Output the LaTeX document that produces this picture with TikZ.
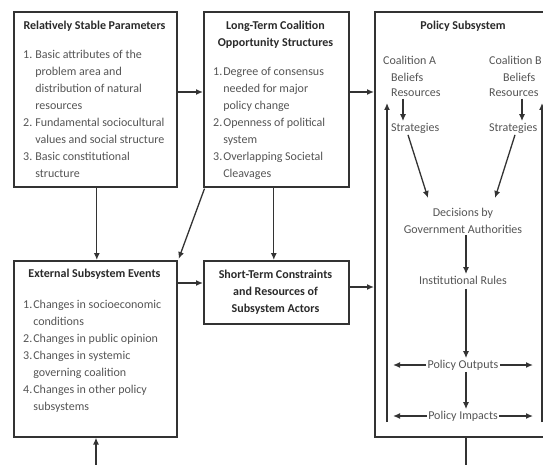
\documentclass[tikz,border=0pt]{standalone}
\usepackage{fontspec}
\setmainfont{Carlito}
\usetikzlibrary{arrows.meta,calc}
\definecolor{lncol}{HTML}{333333}
\definecolor{txcol}{HTML}{555555}
\definecolor{ttcol}{HTML}{2A2A2A}
\begin{document}
\begin{tikzpicture}[x=1pt,y=-1pt,
  box/.style={draw=lncol, line width=1.6pt, inner sep=0pt, anchor=north west},
  arr/.style={draw=lncol, line width=1.3pt, -{Latex[length=7pt,width=6pt]}},
  plain/.style={draw=lncol, line width=1.3pt},
  ttl/.style={font=\fontsize{12}{17}\selectfont\bfseries, text=ttcol, inner sep=0pt, align=center},
  lst/.style={font=\fontsize{12}{17}\selectfont, text=txcol, inner sep=0pt, anchor=base west},
  lbl/.style={font=\fontsize{12}{17}\selectfont, text=txcol, inner sep=1.5pt},
]
\clip (0,0) rectangle (543,465);
\fill[white] (0,0) rectangle (543,465);

% boxes
\node[box, minimum width=163pt, minimum height=175pt] (rsp) at (13,11) {};
\node[box, minimum width=145pt, minimum height=175pt] (lt) at (203,11) {};
\node[box, minimum width=196pt, minimum height=425pt] (ps) at (374,11) {};
\node[box, minimum width=163pt, minimum height=176pt] (ext) at (13,260) {};
\node[box, minimum width=145pt, minimum height=63pt] (st) at (203,260) {};

% box texts
\node[ttl] (rspt) at (94.5,26) {Relatively Stable Parameters};
\node[lst] (rspl) at (23,59) {\begin{tabular}[t]{@{}l@{\hspace{3pt}}l@{}}
1. & Basic attributes of the\\
 & problem area and\\
 & distribution of natural\\
 & resources\\
2. & Fundamental sociocultural\\
 & values and social structure\\
3. & Basic constitutional\\
 & structure
\end{tabular}};

\node[ttl] (ltt) at (275.5,34.5) {Long-Term Coalition\\Opportunity Structures};
\node[lst] (ltl) at (213,76) {\begin{tabular}[t]{@{}l@{\hspace{1pt}}l@{}}
1. & Degree of consensus\\
 & needed for major\\
 & policy change\\
2. & Openness of political\\
 & system\\
3. & Overlapping Societal\\
 & Cleavages
\end{tabular}};

\node[ttl] (extt) at (94.5,274) {External Subsystem Events};
\node[lst] (extl) at (23,308) {\begin{tabular}[t]{@{}l@{\hspace{1pt}}l@{}}
1. & Changes in socioeconomic\\
 & conditions\\
2. & Changes in public opinion\\
3. & Changes in systemic\\
 & governing coalition\\
4. & Changes in other policy\\
 & subsystems
\end{tabular}};

\node[ttl] (stt) at (275.5,292) {Short-Term Constraints\\and Resources of\\Subsystem Actors};

% connectors between boxes
\draw[arr] ($(rsp.north east)+(0,81)$) -- ($(rsp.north east -| lt.west)+(0,81)$);
\draw[arr] ($(lt.north east)+(0,81)$) -- ($(lt.north east -| ps.west)+(0,81)$);
\draw[arr] ($(rsp.south)+(1.5,0)$) -- ($(ext.north)+(1.5,0)$);
\draw[arr] ($(lt.south)+(-2.5,0)$) -- ($(st.north)+(-2.5,0)$);
\draw[arr] ($(lt.south west)+(1.5,1)$) -- ($(ext.north east)+(1,-1)$);
\draw[arr] ($(ext.north east)+(0,23)$) -- ($(ext.north east -| st.west)+(0,23)$);
\draw[arr] ($(st.north east)+(0,27)$) -- ($(st.north east -| ps.west)+(0,27)$);
\coordinate (b1) at (96,470);
\coordinate (b2) at (466,470);
\draw[arr] (b1) -- (b1 |- ext.south);
\draw[plain] (b2 |- ps.south) -- (b2);

% policy subsystem contents
\node[ttl] (pst) at (463,26) {Policy Subsystem};
\node[lbl, anchor=west] (ca) at (381.5,60) {Coalition A};
\node[lbl, anchor=west] (ba) at (389.5,77) {Beliefs};
\node[lbl, anchor=west] (ra) at (389.5,93) {Resources};
\node[lbl, anchor=west] (sa) at (389.5,128) {Strategies};
\node[lbl, anchor=west] (cb) at (487.5,60) {Coalition B};
\node[lbl, anchor=west] (bb) at (501.5,77) {Beliefs};
\node[lbl, anchor=west] (rb) at (487.5,93) {Resources};
\node[lbl, anchor=west] (sb) at (487.5,128) {Strategies};

\draw[arr] (ra.south -| 403,0) -- (sa.north -| 403,0);
\draw[arr] (rb.south -| 522,0) -- (sb.north -| 522,0);

\coordinate (fl1) at (387,422);
\coordinate (fl2) at (387,103);
\coordinate (fr1) at (542,422);
\coordinate (fr2) at (542,103);
\draw[arr] (fl1) -- (fl2);
\draw[arr] (fr1) -- (fr2);

\node[lbl, align=center] (dec) at (463,220.5) {Decisions by\\Government Authorities};
\coordinate (da) at (428,198);
\coordinate (db) at (495,198);
\draw[arr] (sa.south -| 408,0) -- (da);
\draw[arr] (sb.south -| 515,0) -- (db);

\node[lbl] (inst) at (463,280) {Institutional Rules};
\node[lbl] (po) at (463,365) {Policy Outputs};
\node[lbl] (pi) at (463,416) {Policy Impacts};

\draw[arr] (dec.south -| 466,0) -- (inst.north -| 466,0);
\draw[arr] ([yshift=-3pt]inst.south -| 466,0) -- (po.north -| 466,0);
\draw[arr] (po.south -| 466,0) -- (pi.north -| 466,0);
\draw[arr] (po.west) -- (po.west -| 393,0);
\draw[arr] (po.east) -- (po.east -| 533,0);
\draw[arr] (pi.west) -- (pi.west -| 393,0);
\draw[arr] (pi.east) -- (pi.east -| 533,0);
\end{tikzpicture}
\end{document}
